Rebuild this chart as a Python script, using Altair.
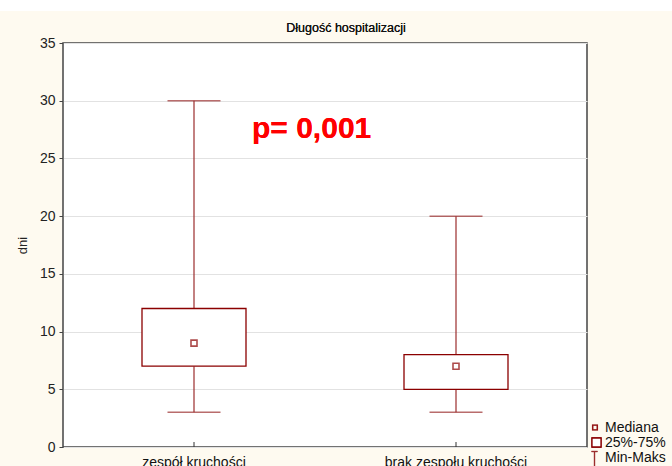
import altair as alt
import pandas as pd

# Length of hospital stay (days) by frailty status
groups = ["zespół kruchości", "brak zespołu kruchości"]
mins = [3, 3]
q1s = [7, 5]
medians = [9, 7]
q3s = [12, 8]
maxs = [30, 20]

legend_labels = ["Mediana", "25%-75%", "Min-Maks"]
y_ticks = [0, 5, 10, 15, 20, 25, 30, 35]

df = pd.DataFrame({"grupa": groups, "min": mins, "q1": q1s,
                   "med": medians, "q3": q3s, "max": maxs})

W, H = 524, 404
RED = "#8B0000"
FONT = "Liberation Sans"

x = alt.X("grupa:N", sort=groups, title=None,
          scale=alt.Scale(paddingInner=0, paddingOuter=0),
          axis=alt.Axis(labelAngle=0, labelFontSize=14, labelColor="#111",
                        labelFont=FONT, ticks=False, domain=False,
                        labelPadding=8, grid=False))
yscale = alt.Scale(domain=[0, 35], nice=False)

base = alt.Chart(df).encode(x=x)

# top white strip above the cream panel
strip = alt.Chart(df).mark_rect(color="white").encode(
    x=alt.value(-63), x2=alt.value(W + 85),
    y=alt.value(-43), y2=alt.value(-32))

title = alt.Chart(df).mark_text(text="Długość hospitalizacji", font=FONT,
                                fontSize=12.5, color="#111", align="center",
                                baseline="middle").encode(
    x=alt.value(283), y=alt.value(-15))

whisk_lo = base.mark_rule(color="#9B2D2D", strokeWidth=1.2).encode(
    y=alt.Y("min:Q", scale=yscale, title="dni",
            axis=alt.Axis(values=y_ticks, grid=True, gridColor="#e2e2e2",
                          labelFontSize=14, labelColor="#222", labelFont=FONT,
                          tickSize=4, tickColor="#444", domain=False,
                          labelPadding=4, titleFont=FONT, titleFontSize=13,
                          titleFontWeight="normal", titleColor="#222",
                          titlePadding=10)),
    y2="q1:Q")
whisk_hi = base.mark_rule(color="#9B2D2D", strokeWidth=1.2).encode(
    y="q3:Q", y2="max:Q")
cap_lo = base.mark_tick(color="#9B2D2D", size=53, thickness=1.5).encode(y="min:Q")
cap_hi = base.mark_tick(color="#9B2D2D", size=53, thickness=1.5).encode(y="max:Q")
boxes = base.mark_bar(size=104, fill="white", stroke=RED, strokeWidth=1.3).encode(
    y="q1:Q", y2="q3:Q")
med = base.mark_square(size=36, filled=False, color=RED, strokeWidth=1.6).encode(
    y="med:Q")
inner_ticks = base.mark_rule(color="#333", strokeWidth=1).encode(
    y=alt.value(H), y2=alt.value(H - 5))

ptext = alt.Chart(df).mark_text(text="p= 0,001", color="#FF0000", fontSize=30,
                                fontWeight="bold", font=FONT, align="left",
                                baseline="middle").encode(
    x=alt.value(189), y=alt.value(86))

# legend
leg = pd.DataFrame({"lab": legend_labels, "yy": [385, 400, 415]})
leg_text = alt.Chart(leg).mark_text(align="left", baseline="middle", fontSize=14,
                                    font=FONT, color="#111").encode(
    x=alt.value(542), y=alt.Y("yy:Q", scale=None), text="lab:N")
leg_med = alt.Chart(df).mark_square(size=22, filled=False, color=RED,
                                    strokeWidth=1.4).encode(
    x=alt.value(532), y=alt.value(384.5))
leg_box = alt.Chart(df).mark_rect(fill="white", stroke=RED, strokeWidth=1.3).encode(
    x=alt.value(529), x2=alt.value(538), y=alt.value(395), y2=alt.value(404))
leg_wh = alt.Chart(df).mark_rule(color="#9B2D2D", strokeWidth=1.2).encode(
    x=alt.value(531.5), y=alt.value(408), y2=alt.value(425))
leg_cap = alt.Chart(df).mark_rule(color="#9B2D2D", strokeWidth=1.2).encode(
    x=alt.value(528.5), x2=alt.value(534.5), y=alt.value(408.5))

chart = alt.layer(
    strip, title, whisk_lo, whisk_hi, cap_lo, cap_hi, boxes, med, inner_ticks,
    ptext, leg_text, leg_med, leg_box, leg_wh, leg_cap
).properties(
    width=W, height=H,
    autosize=alt.AutoSizeParams(type="none"),
    padding={"left": 63, "top": 43, "right": 85, "bottom": 19},
    background="#FEFAF0",
).configure_view(fill="white", stroke="#444", strokeWidth=1.5)

chart.save("out.html", embed_options={"renderer": "svg", "actions": False})
